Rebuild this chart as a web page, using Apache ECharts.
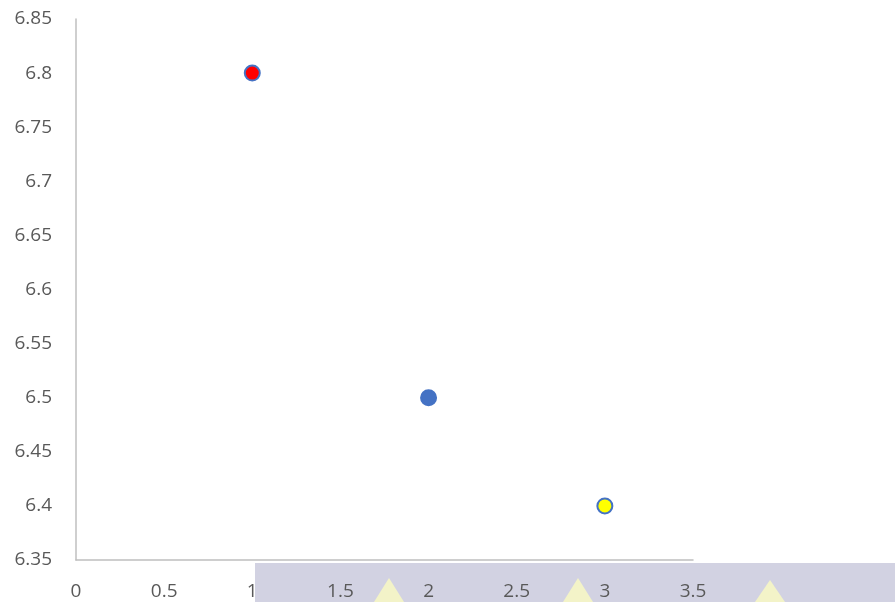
<!DOCTYPE html>
<html>
<head>
<meta charset="utf-8">
<script src="https://cdn.jsdelivr.net/npm/echarts@6/dist/echarts.min.js"></script>
<style>
  html, body { margin: 0; padding: 0; background: #fff; }
  #chart { width: 895px; height: 602px; }
</style>
</head>
<body>
<div id="chart"></div>
<script>
// data
var xValues = [1, 2, 3];
var yValues = [6.8, 6.5, 6.4];
var fillColors = ['#ff0000', '#4472c4', '#ffff00'];

var chart = echarts.init(document.getElementById('chart'));

var points = xValues.map(function (x, i) {
    return {
        value: [x, yValues[i]],
        itemStyle: { color: fillColors[i] }
    };
});

var option = {
    backgroundColor: '#fff',
    animation: false,
    grid: { left: 76, top: 19, right: 202, bottom: 42 },
    xAxis: {
        type: 'value',
        min: 0,
        max: 3.5,
        interval: 0.5,
        axisLine: { show: true, lineStyle: { color: '#bfbfbf', width: 1.5 } },
        axisTick: { show: false },
        splitLine: { show: false },
        axisLabel: { color: '#595959', fontSize: 19, fontFamily: 'Open Sans', margin: 22 }
    },
    yAxis: {
        type: 'value',
        min: 6.35,
        max: 6.85,
        interval: 0.05,
        axisLine: { show: true, lineStyle: { color: '#bfbfbf', width: 1.5 } },
        axisTick: { show: false },
        splitLine: { show: false },
        axisLabel: { color: '#595959', fontSize: 19, fontFamily: 'Open Sans', margin: 24 }
    },
    series: [{
        type: 'scatter',
        symbolSize: 15,
        data: points,
        itemStyle: { borderColor: '#4472c4', borderWidth: 2, opacity: 1 }
    }],
    // bottom strip seen in the picture
    graphic: [
        {
            type: 'rect', z: -1, silent: true,
            shape: { x: 255, y: 563, width: 640, height: 39 },
            style: { fill: '#d2d2e2' }
        },
        {
            type: 'polygon', z: -1, silent: true,
            shape: { points: [[374, 602], [389, 578], [404, 602]] },
            style: { fill: '#f3f3c8' }
        },
        {
            type: 'polygon', z: -1, silent: true,
            shape: { points: [[563, 602], [578, 578], [593, 602]] },
            style: { fill: '#f3f3c8' }
        },
        {
            type: 'polygon', z: -1, silent: true,
            shape: { points: [[755, 602], [770, 580], [785, 602]] },
            style: { fill: '#f3f3c8' }
        }
    ]
};
chart.setOption(option);
</script>
</body>
</html>
